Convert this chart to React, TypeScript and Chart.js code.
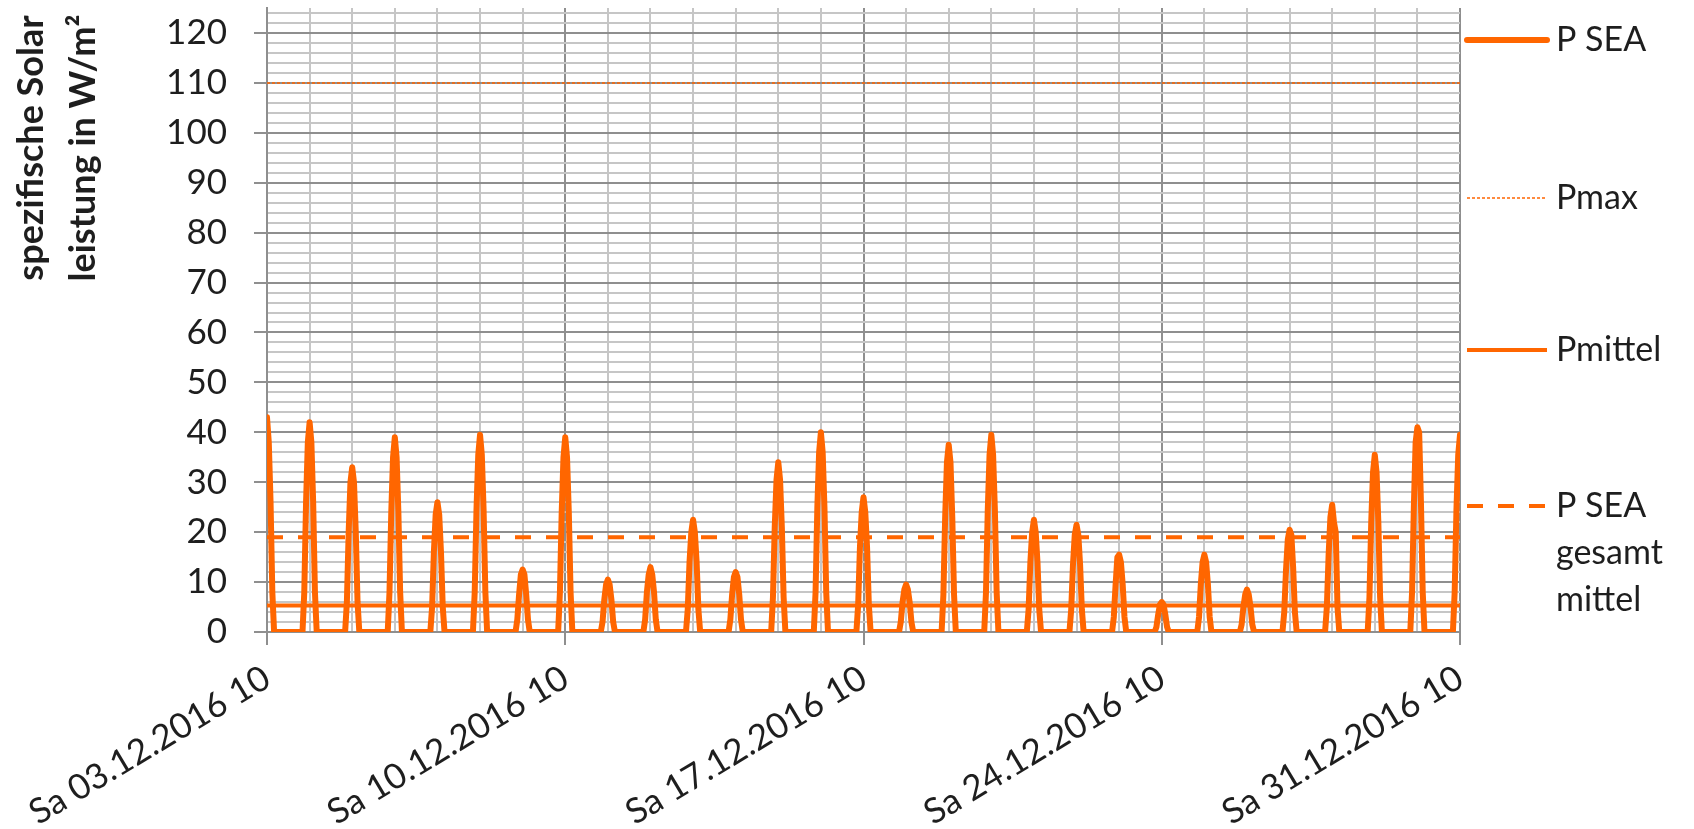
import React, { useEffect, useRef } from "react";
import { Chart, registerables } from "chart.js";

Chart.register(...registerables);

// ---------- data ----------
const weekLabels = [
  "Sa 03.12.2016 10",
  "Sa 10.12.2016 10",
  "Sa 17.12.2016 10",
  "Sa 24.12.2016 10",
  "Sa 31.12.2016 10",
];
const dayCount = 28; // 03.12. 10:00 .. 31.12. 10:00
const hoursPerDay = 24;
const peakHourOffsets = [-4, -3, -2, -1, 0, 1, 2, 3, 4];
// P SEA hourly values around each day's 10:00 (W/m²)
const pSeaDaily: (number | null)[][] = [
  [null, null, null, null, 43, 38, 26, 8, 0],
  [0, 8, 26, 38, 42, 38, 26, 8, 0],
  [0, 6, 20, 30, 33, 30, 20, 6, 0],
  [0, 8, 24, 35, 39, 35, 24, 8, 0],
  [0, 5, 16, 23.5, 26, 23.5, 16, 5, 0],
  [0, 8, 24.5, 35.5, 39.5, 35.5, 24.5, 8, 0],
  [0, 2.5, 7.5, 11.5, 12.5, 11.5, 7.5, 2.5, 0],
  [0, 8, 24, 35, 39, 35, 24, 8, 0],
  [0, 2, 6.5, 9.5, 10.5, 9.5, 6.5, 2, 0],
  [0, 2.5, 8, 11.5, 13, 11.5, 8, 2.5, 0],
  [0, 4.5, 14, 20, 22.5, 20, 14, 4.5, 0],
  [0, 2.5, 7.5, 11, 12, 11, 7.5, 2.5, 0],
  [0, 7, 21, 30.5, 34, 30.5, 21, 7, 0],
  [0, 8, 25, 36, 40, 36, 25, 8, 0],
  [0, 5.5, 17, 24, 27, 24, 17, 5.5, 0],
  [0, 2, 6, 8.5, 9.5, 8.5, 6, 2, 0],
  [0, 7.5, 23, 34, 37.5, 34, 23, 7.5, 0],
  [0, 8, 24.5, 35.5, 39.5, 35.5, 24.5, 8, 0],
  [0, 4.5, 14, 20, 22.5, 20, 14, 4.5, 0],
  [0, 4.5, 13.5, 19.5, 21.5, 19.5, 13.5, 4.5, 0],
  [0, 3, 9.5, 15, 15.5, 14, 9.5, 3, 0],
  [0, 1, 3.5, 5.5, 6, 5.5, 3.5, 1, 0],
  [0, 3, 9.5, 14, 15.5, 14, 9.5, 3, 0],
  [0, 1.5, 5, 7.5, 8.5, 7.5, 5, 1.5, 0],
  [0, 4, 12.5, 18.5, 20.5, 19.5, 13, 4, 0],
  [0, 5, 15.5, 23, 25.5, 22, 20, 5, 0],
  [0, 7, 22, 32, 35.5, 32, 22, 7, 0],
  [0, 8, 25, 38, 41, 40, 26, 8, 0],
  [0, 8, 24.5, 35.5, 39.5, null, null, null, null],
];
const pMaxValue = 110;
const pMittelValue = 5.3;
const pSeaGesamtMittelValue = 19;

const yTitleLines = ["spezifische Solar", "leistung in W/m²"];
const legendLabels: string[][] = [
  ["P SEA"],
  ["Pmax"],
  ["Pmittel"],
  ["P SEA", "gesamt", "mittel"],
];

// ---------- styles ----------
const ORANGE = "#FF6600";
const TEXT = "#1e1e1e";
const GRID_MAJOR = "#8f8f8f";
const GRID_MINOR = "#c6c6c6";
const FONT = "Lato";

const W = 1694;
const H = 829;
const PLOT_LEFT = 267;
const PLOT_RIGHT = 1460;
const PLOT_TOP = 8;
const PLOT_BOTTOM = 632;

const seriesStyles = [
  { width: 6, dash: [] as number[] },
  { width: 1.5, dash: [3, 2] },
  { width: 4, dash: [] as number[] },
  { width: 4, dash: [16, 15] },
];

function buildPSea() {
  const pts: { x: number; y: number }[] = [];
  pSeaDaily.forEach((vals, d) => {
    vals.forEach((v, i) => {
      if (v !== null) pts.push({ x: d * hoursPerDay + peakHourOffsets[i], y: v });
    });
  });
  return pts;
}

function constLine(v: number) {
  return [
    { x: 0, y: v },
    { x: dayCount * hoursPerDay, y: v },
  ];
}

const decorPlugin = {
  id: "decor",
  afterDraw(chart: any) {
    const ctx: CanvasRenderingContext2D = chart.ctx;
    ctx.save();
    // y axis title (two rotated lines)
    ctx.fillStyle = TEXT;
    ctx.font = `bold 36px ${FONT}`;
    ctx.textAlign = "center";
    ctx.textBaseline = "middle";
    const titleX = [31, 83];
    yTitleLines.forEach((t, i) => {
      ctx.save();
      ctx.translate(titleX[i], 148);
      ctx.rotate(-Math.PI / 2);
      ctx.fillText(t, 0, 0);
      ctx.restore();
    });
    // legend
    const itemY = [40, 198, 350, 506];
    const lineGap = 47;
    legendLabels.forEach((lines, i) => {
      const st = seriesStyles[i];
      const y = itemY[i];
      ctx.save();
      ctx.strokeStyle = ORANGE;
      ctx.lineWidth = st.width;
      ctx.setLineDash(st.dash);
      ctx.lineCap = i === 0 ? "round" : "butt";
      ctx.beginPath();
      ctx.moveTo(1467, y);
      ctx.lineTo(1547, y);
      ctx.stroke();
      ctx.restore();
      ctx.fillStyle = TEXT;
      ctx.font = `34px ${FONT}`;
      ctx.textAlign = "left";
      ctx.textBaseline = "middle";
      lines.forEach((l, k) => ctx.fillText(l, 1556, y + k * lineGap));
    });
    ctx.restore();
  },
};

export default function App() {
  const ref = useRef<HTMLCanvasElement>(null);
  useEffect(() => {
    if (!ref.current) return;
    const chart = new Chart(ref.current, {
      type: "line",
      data: {
        datasets: [
          {
            label: "P SEA",
            data: buildPSea(),
            borderColor: ORANGE,
            borderWidth: seriesStyles[0].width,
            pointRadius: 0,
            borderJoinStyle: "round",
            borderCapStyle: "round",
            tension: 0,
          },
          {
            label: "Pmax",
            data: constLine(pMaxValue),
            borderColor: ORANGE,
            borderWidth: seriesStyles[1].width,
            borderDash: seriesStyles[1].dash,
            pointRadius: 0,
          },
          {
            label: "Pmittel",
            data: constLine(pMittelValue),
            borderColor: ORANGE,
            borderWidth: seriesStyles[2].width,
            pointRadius: 0,
          },
          {
            label: "P SEA gesamt mittel",
            data: constLine(pSeaGesamtMittelValue),
            borderColor: ORANGE,
            borderWidth: seriesStyles[3].width,
            borderDash: seriesStyles[3].dash,
            pointRadius: 0,
          },
        ],
      },
      options: {
        responsive: false,
        animation: false,
        devicePixelRatio: 1,
        layout: { padding: { left: 0, right: W - PLOT_RIGHT, top: PLOT_TOP, bottom: 0 } },
        plugins: { legend: { display: false }, tooltip: { enabled: false } },
        scales: {
          x: {
            type: "linear",
            min: 0,
            max: dayCount * hoursPerDay,
            afterFit: (s: any) => {
              s.height = H - PLOT_BOTTOM;
              s.paddingLeft = 0;
              s.paddingRight = 0;
            },
            border: { color: GRID_MAJOR, width: 2 },
            grid: {
              color: (c: any) => (c.tick && c.tick.value % (7 * hoursPerDay) === 0 ? GRID_MAJOR : GRID_MINOR),
              tickColor: (c: any) => (c.tick && c.tick.value % (7 * hoursPerDay) === 0 ? GRID_MAJOR : "rgba(0,0,0,0)"),
              lineWidth: 2,
              tickLength: 13,
            },
            ticks: {
              stepSize: hoursPerDay,
              autoSkip: false,
              maxRotation: 31,
              minRotation: 31,
              padding: 12,
              color: TEXT,
              font: { family: FONT, size: 35 },
              callback: (v: any) => {
                const n = Number(v);
                return n % (7 * hoursPerDay) === 0 ? weekLabels[n / (7 * hoursPerDay)] : "";
              },
            },
          },
          y: {
            type: "linear",
            min: 0,
            max: 125,
            afterFit: (s: any) => {
              s.width = PLOT_LEFT;
              s.paddingTop = 0;
              s.paddingBottom = 0;
            },
            border: { color: GRID_MAJOR, width: 2 },
            grid: {
              color: (c: any) => (c.tick && c.tick.value % 10 === 0 ? GRID_MAJOR : GRID_MINOR),
              tickColor: (c: any) => (c.tick && c.tick.value % 10 === 0 ? GRID_MAJOR : "rgba(0,0,0,0)"),
              lineWidth: 2,
              tickLength: 13,
            },
            ticks: {
              stepSize: 2,
              includeBounds: false,
              autoSkip: false,
              padding: 27,
              color: TEXT,
              font: { family: FONT, size: 35 },
              callback: (v: any) => (Number(v) % 10 === 0 ? String(v) : ""),
            },
          },
        },
      },
      plugins: [decorPlugin],
    } as any);
    return () => chart.destroy();
  }, []);
  return (
    <div style={{ position: "fixed", left: 0, top: 0, width: W, height: H, background: "#fff" }}>
      <canvas ref={ref} width={W} height={H} style={{ display: "block", width: W, height: H }} />
    </div>
  );
}
